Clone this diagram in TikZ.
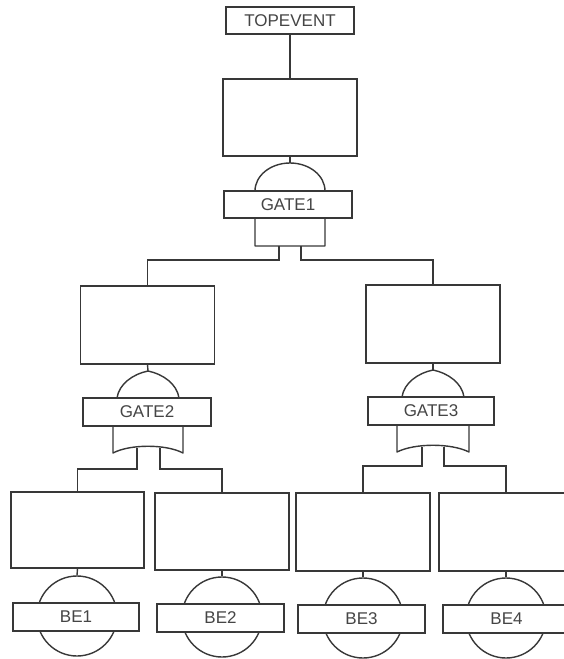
\documentclass[tikz,border=0pt]{standalone}
\usepackage{fontspec}
\setmainfont{Liberation Sans}
\definecolor{linec}{HTML}{383838}
\definecolor{textc}{HTML}{454545}
\begin{document}
\begin{tikzpicture}[x=1pt,y=-1pt,
  ln/.style={draw=linec, line width=1.4pt},
  evbox/.style={ln, fill=white, minimum width=134pt, minimum height=77pt, inner sep=0pt},
  lblbox/.style={ln, fill=white, minimum width=128pt, minimum height=28pt, inner sep=0pt,
                 font=\fontsize{17}{17}\selectfont, text=textc},
  gateshape/.style={ln, fill=white, line join=round},
  bascirc/.style={ln, circle, fill=white, minimum size=80pt, inner sep=0pt}]
\useasboundingbox (0,0) rectangle (564,659);
\clip (0,0) rectangle (564,659);

% ---------- top event ----------
\node[lblbox, minimum width=128pt, minimum height=27pt] (top) at (290,20.5) {TOPEVENT};
\node[evbox] (e0) at (290,117.5) {};

% AND gate GATE1
\draw[gateshape] (255,246) -- (255,191)
  .. controls (255,175.5) and (270.7,163) .. (290,163)
  .. controls (309.3,163) and (325,175.5) .. (325,191) -- (325,246) -- cycle;
\coordinate (g1in) at (290,163);
\node[lblbox, minimum height=27pt] (g1) at (288,204.5) {GATE1};
\coordinate (g1oL) at (279,246);
\coordinate (g1oR) at (301,246);

\draw[ln] (top.south) -- (e0.north);
\draw[ln] (e0.south) -- (g1in);

% ---------- second level ----------
\node[evbox, minimum height=78pt] (e1) at (147.5,325) {};
\node[evbox, minimum height=78pt] (e2) at (433,324) {};

\draw[ln] (g1oL) -- ++(0,14) -| (e1.north);
\draw[ln] (g1oR) -- ++(0,14) -| (e2.north);

% OR gate GATE2
\begin{scope}[shift={(148,0)}]
  \draw[gateshape] (-31,404) -- (-31,398)
    .. controls (-29,384) and (-15,374) .. (0,371)
    .. controls (15,374) and (29,384) .. (31,398) -- (31,404);
  \draw[gateshape] (-35,420) -- (-35,453)
    .. controls (-18,444) and (18,444) .. (35,453) -- (35,420);
  \coordinate (g2in) at (0,371);
  \coordinate (g2oL) at (-11,447.5);
  \coordinate (g2oR) at (12,447.5);
\end{scope}
\node[lblbox] (g2) at (147,412) {GATE2};

% OR gate GATE3
\begin{scope}[shift={(433,-1)}]
  \draw[gateshape] (-31,404) -- (-31,398)
    .. controls (-29,384) and (-15,374) .. (0,371)
    .. controls (15,374) and (29,384) .. (31,398) -- (31,404);
  \draw[gateshape] (-36,420) -- (-36,453)
    .. controls (-18,444) and (18,444) .. (36,453) -- (36,420);
  \coordinate (g3in) at (0,371);
  \coordinate (g3oL) at (-11,447.5);
  \coordinate (g3oR) at (11,447.5);
\end{scope}
\node[lblbox, minimum width=126pt] (g3) at (431,411) {GATE3};

\draw[ln] (e1.south) -- (g2in);
\draw[ln] (e2.south) -- (g3in);

% ---------- basic events ----------
\node[evbox, minimum width=133pt, minimum height=76pt] (b1) at (77.5,530) {};
\node[evbox] (b2) at (222,531.5) {};
\node[evbox, minimum height=78pt] (b3) at (363,532) {};
\node[evbox, minimum height=78pt] (b4) at (506,532) {};

\draw[ln] (g2oL) |- ++(0,21.5) -| (b1.north);
\draw[ln] (g2oR) |- ++(0,21.5) -| (b2.north);
\draw[ln] (g3oL) |- ++(0,19.5) -| (b3.north);
\draw[ln] (g3oR) |- ++(0,19.5) -| (b4.north);

\node[bascirc] (c1) at (77,616) {};
\node[bascirc] (c2) at (222,617) {};
\node[bascirc] (c3) at (363,618) {};
\node[bascirc] (c4) at (506,618) {};

\draw[ln] (b1.south) -- (c1.north);
\draw[ln] (b2.south) -- (c2.north);
\draw[ln] (b3.south) -- (c3.north);
\draw[ln] (b4.south) -- (c4.north);

\node[lblbox, minimum width=126pt] (l1) at (76,617) {BE1};
\node[lblbox, minimum width=127pt] (l2) at (220.5,618) {BE2};
\node[lblbox, minimum width=127pt] (l3) at (361.5,619) {BE3};
\node[lblbox, minimum width=127pt] (l4) at (506.5,619) {BE4};
\end{tikzpicture}
\end{document}
